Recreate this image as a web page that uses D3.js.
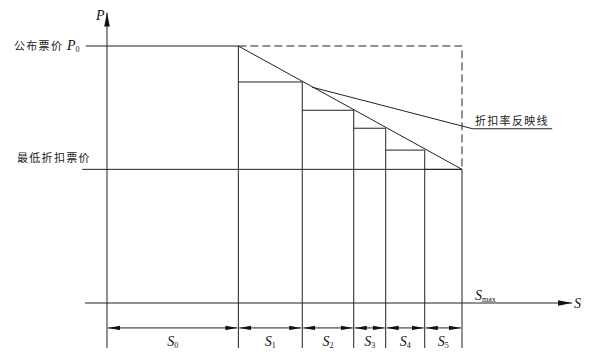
<!DOCTYPE html>
<html>
<head>
<meta charset="utf-8">
<script src="https://cdn.jsdelivr.net/npm/d3@7"></script>
<style>
  body { margin: 0; background: #fff; }
  .cn { font-family: "Noto Sans CJK SC", sans-serif; font-size: 11px; letter-spacing: 1.3px; fill: #222; }
  .it { font-family: "Liberation Serif", "DejaVu Serif", serif; font-style: italic; font-size: 14px; fill: #111; }
  .sub { font-style: normal; font-size: 8px; }
</style>
</head>
<body>
<div id="chart"></div>
<script>
// segment names and lengths along S
const segNames = ["S0", "S1", "S2", "S3", "S4", "S5"];
const segLens = [3.7, 1.8, 1.45, 0.9, 1.1, 1.05];
// step prices for each discounted segment S1..S5
const stepPrices = [86, 75, 68, 59.5, 52];
// price levels
const priceP0 = 100;
const priceMin = 52;
// discount-rate reflection line: start and end
const reflectLine = [[5.77, 84], [10.3, 67.8]];
const reflectLabelEnd = 12.54;

const width = 600, height = 363;
const svg = d3.select("#chart").append("svg")
    .attr("width", width)
    .attr("height", height);

const x = d3.scaleLinear().domain([0, 10]).range([107, 462]);
const y = d3.scaleLinear().domain([0, 100]).range([303, 46]);

const ink = "#222";

// arrow markers
const defs = svg.append("defs");
defs.append("marker")
    .attr("id", "axArrow")
    .attr("viewBox", "0 0 14 6")
    .attr("refX", 14).attr("refY", 3)
    .attr("markerWidth", 14).attr("markerHeight", 6)
    .attr("markerUnits", "userSpaceOnUse")
    .attr("orient", "auto")
    .append("path").attr("d", "M0,0.2L14,3L0,5.8Z").attr("fill", "#111");
defs.append("marker")
    .attr("id", "dimArrow")
    .attr("viewBox", "0 0 12 5")
    .attr("refX", 12).attr("refY", 2.5)
    .attr("markerWidth", 12).attr("markerHeight", 5)
    .attr("markerUnits", "userSpaceOnUse")
    .attr("orient", "auto-start-reverse")
    .append("path").attr("d", "M0,0.3L12,2.5L0,4.7Z").attr("fill", "#111");

// boundaries
const bounds = [0];
segLens.forEach(l => bounds.push(bounds[bounds.length - 1] + l));
const sMax = bounds[bounds.length - 1];

const g = svg.append("g").attr("stroke", ink).attr("stroke-width", 1).attr("fill", "none");

// axes
g.append("line")
    .attr("x1", x(0)).attr("y1", y(-17.5))
    .attr("x2", x(0)).attr("y2", y(113))
    .attr("marker-end", "url(#axArrow)");
g.append("line")
    .attr("x1", x(-0.62)).attr("y1", y(0))
    .attr("x2", x(13.1)).attr("y2", y(0))
    .attr("marker-end", "url(#axArrow)");

// published price line + dashed box
g.append("line")
    .attr("x1", x(-0.6)).attr("y1", y(priceP0))
    .attr("x2", x(bounds[1])).attr("y2", y(priceP0));
g.append("path")
    .attr("stroke-dasharray", "8,4")
    .attr("d", d3.line()([[x(bounds[1]), y(priceP0)], [x(sMax), y(priceP0)], [x(sMax), y(priceMin)]]));

// minimum discount price line
g.append("line")
    .attr("x1", x(-0.7)).attr("y1", y(priceMin))
    .attr("x2", x(sMax)).attr("y2", y(priceMin));

// diagonal
g.append("line")
    .attr("x1", x(bounds[1])).attr("y1", y(priceP0))
    .attr("x2", x(sMax)).attr("y2", y(priceMin));

// vertical boundaries
const vTops = [priceP0].concat(stepPrices);
g.selectAll(".vb").data(bounds.slice(1)).join("line")
    .attr("class", "vb")
    .attr("x1", d => x(d)).attr("x2", d => x(d))
    .attr("y1", (d, i) => y(vTops[i]))
    .attr("y2", y(-17.5));

// step tops
g.selectAll(".st").data(stepPrices).join("line")
    .attr("class", "st")
    .attr("x1", (d, i) => x(bounds[i + 1]))
    .attr("x2", (d, i) => x(bounds[i + 2]))
    .attr("y1", d => y(d)).attr("y2", d => y(d));

// reflection line
g.append("path")
    .attr("d", d3.line()([
        [x(reflectLine[0][0]), y(reflectLine[0][1])],
        [x(reflectLine[1][0]), y(reflectLine[1][1])],
        [x(reflectLabelEnd), y(reflectLine[1][1])]
    ]));

// dimension arrows
g.selectAll(".dim").data(segLens).join("line")
    .attr("class", "dim")
    .attr("x1", (d, i) => x(bounds[i]) + 1)
    .attr("x2", (d, i) => x(bounds[i + 1]) - 1)
    .attr("y1", y(-9.7)).attr("y2", y(-9.7))
    .attr("marker-start", "url(#dimArrow)")
    .attr("marker-end", "url(#dimArrow)");

// labels
function subLabel(px, py, main, sub, anchor) {
    const t = svg.append("text").attr("class", "it")
        .attr("x", px).attr("y", py)
        .attr("text-anchor", anchor || "start");
    t.append("tspan").text(main);
    if (sub) t.append("tspan").attr("class", "sub").attr("dy", 2).text(sub);
    return t;
}

segNames.forEach((n, i) => {
    subLabel((x(bounds[i]) + x(bounds[i + 1])) / 2, 346, n[0], n.slice(1), "middle");
});

subLabel(x(0) - 11, 20, "P");
subLabel(574, 308, "S");
subLabel(x(sMax) + 13, 300, "S", "max");
subLabel(67, 50, "P", "0");

svg.append("text").attr("class", "cn").attr("x", 14).attr("y", 50).text("公布票价");
svg.append("text").attr("class", "cn").attr("x", 17).attr("y", 162).text("最低折扣票价");
svg.append("text").attr("class", "cn").attr("x", 475).attr("y", 125).text("折扣率反映线");
</script>
</body>
</html>
